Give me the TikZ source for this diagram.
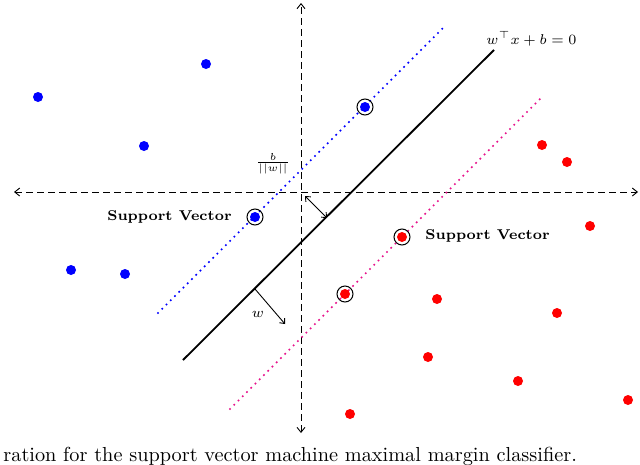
\documentclass[tikz,border=0pt]{standalone}
\usetikzlibrary{arrows.meta}
\definecolor{svmblue}{RGB}{0,0,255}
\definecolor{svmred}{RGB}{255,0,0}
\definecolor{svmmag}{RGB}{230,20,140}
\begin{document}
\begin{tikzpicture}[x=1pt,y=-1pt,
  axis/.style={dash pattern=on 7pt off 4pt, line width=0.9pt, {Straight Barb[length=5pt,width=8pt]}-{Straight Barb[length=5pt,width=8pt]}},
  margin/.style={line width=2.4pt, line cap=round, dash pattern=on 0pt off 6pt},
  bpt/.style={circle, fill=svmblue, inner sep=0pt, minimum size=10pt},
  rpt/.style={circle, fill=svmred, inner sep=0pt, minimum size=10pt},
  ring/.style={circle, draw=black, line width=1pt, inner sep=0pt, minimum size=16pt},
  txt/.style={inner sep=0pt, scale=2.03, transform shape},
  svlabel/.style={txt, font=\scriptsize\bfseries},
  thin arrow/.style={line width=0.9pt, -{Straight Barb[length=4pt,width=7pt]}}
]
\useasboundingbox (0,0) rectangle (640,464);
% axes
\coordinate (yt) at (301,3); \coordinate (yb) at (301,433);
\coordinate (xl) at (14,192); \coordinate (xr) at (638,192);
\draw[axis] (yb) -- (yt);
\draw[axis] (xl) -- (xr);
% hyperplanes
\coordinate (h1) at (183,360); \coordinate (h2) at (494,50);
\draw[line width=1.8pt] (h1) -- (h2);
\coordinate (b1) at (158,313); \coordinate (b2) at (445,26);
\draw[margin, draw=svmblue] (b1) -- (b2);
\coordinate (m1) at (230,409); \coordinate (m2) at (542,97);
\draw[margin, draw=svmmag] (m1) -- (m2);
% labels
\node[txt, anchor=south west, font=\scriptsize] (eq) at (486,47) {$w^\top x + b = 0$};
\node[txt, font=\scriptsize] (bw) at (273,164) {$\frac{b}{||w||}$};
% distance arrow
\coordinate (o) at (305,196); \coordinate (f) at (327,218);
\draw[line width=0.9pt, {Straight Barb[length=4pt,width=7pt]}-{Straight Barb[length=4pt,width=7pt]}] (o) -- (f);
% w arrow
\coordinate (w0) at (255,289); \coordinate (w1) at (285,324);
\draw[thin arrow] (w0) -- (w1);
\node[txt, font=\scriptsize] (wl) at (258,314) {$w$};
% blue points
\node[bpt] (p1) at (38,97) {};
\node[bpt] (p2) at (206,64) {};
\node[bpt] (p3) at (144,146) {};
\node[bpt] (p4) at (71,270) {};
\node[bpt] (p5) at (125,274) {};
\node[bpt] (s1) at (365,107) {};
\node[ring] at (s1) {};
\node[bpt] (s2) at (255,217) {};
\node[ring] at (s2) {};
% red points
\node[rpt] (r1) at (542,145) {};
\node[rpt] (r2) at (567,162) {};
\node[rpt] (r3) at (590,226) {};
\node[rpt] (r4) at (437,299) {};
\node[rpt] (r5) at (557,313) {};
\node[rpt] (r6) at (428,357) {};
\node[rpt] (r7) at (518,381) {};
\node[rpt] (r8) at (350,414) {};
\node[rpt] (r9) at (628,400) {};
\node[rpt] (s3) at (402,237) {};
\node[ring] at (s3) {};
\node[rpt] (s4) at (345,294) {};
\node[ring] at (s4) {};
% support vector labels
\node[svlabel, anchor=east] (sl1) at (232,217) {Support Vector};
\node[svlabel, anchor=west] (sl2) at (425,236) {Support Vector};
% caption
\node[txt, anchor=base west, font=\normalsize] (cap) at (3,461) {ration for the support vector machine maximal margin classifier.};
\end{tikzpicture}
\end{document}
